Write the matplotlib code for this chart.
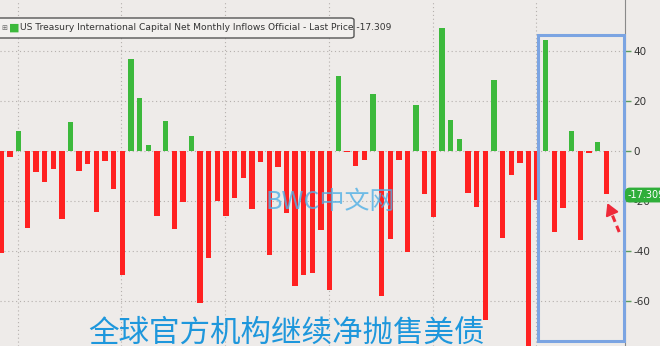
import matplotlib.pyplot as plt
from matplotlib.patches import Rectangle, FancyBboxPatch

plt.rcParams['font.family'] = ['DejaVu Sans']

# monthly net official inflows (USD bn), oldest -> latest
flows = [-41, -2.7, 8, -31, -8.7, -12.7, -7.3, -27.3, 11.3, -8.1,
         -5.5, -24.4, -4, -15.5, -49.7, 36.5, 21, 2.1, -26, 11.9,
         -31.3, -20.4, 6, -61, -42.8, -20, -26.1, -18.8, -10.8, -23.3,
         -4.7, -41.7, -6.7, -25, -54, -49.8, -48.9, -31.7, -55.7, 30,
         -0.5, -6, -3.9, 22.7, -58.1, -35.3, -3.9, -40.4, 18.3, -17.3,
         -26.4, 49, 12.3, 4.7, -17, -22.7, -67.5, 28.3, -34.7, -9.9,
         -4.8, -85, -19.7, 44.3, -32.4, -23, 7.9, -35.7, -0.8, 3.5,
         -17.309]
y_ticks = [-60, -40, -20, 0, 20, 40]
year_marks = [2, 14, 26, 38, 50, 62]
legend_text = 'US Treasury International Capital Net Monthly Inflows Official - Last Price -17.309'
last_label = '-17.309'
caption = '全球官方机构继续净抛售美债'
watermark = 'BWC中文网'

bg = '#eeebe9'
green = '#3cb93c'
red = '#ff2121'

fig = plt.figure(figsize=(6.6, 3.46), dpi=100, facecolor=bg)
ax = fig.add_axes([0, 0, 625 / 660, 1], facecolor=bg)

x = list(range(len(flows)))
colors = [green if v >= 0 else red for v in flows]
ax.bar(x, flows, width=0.62, color=colors, zorder=3)

ax.set_xlim(-0.16, 72.17)
ax.set_ylim(-78.1, 60.3)

# dotted grid
for yv in [-60, -40, -20, 0, 20, 40]:
    ax.axhline(yv, color='#b5b0ad', lw=0.8, ls=(0, (1, 2.5)), zorder=1)
for xv in year_marks:
    ax.axvline(xv - 0.1, color='#b5b0ad', lw=0.8, ls=(0, (1, 2.5)), zorder=1)

ax.yaxis.tick_right()
ax.set_yticks(y_ticks)
ax.set_yticklabels([str(t) for t in y_ticks])
ax.tick_params(axis='y', length=4, width=1, color='#5d9c5d', labelsize=7.5,
               labelcolor='#333333', pad=2)
ax.set_xticks([])
for s in ['left', 'top', 'bottom']:
    ax.spines[s].set_visible(False)
ax.spines['right'].set_color('#8a8a8a')
ax.spines['right'].set_linewidth(0.8)

# highlight box around the latest months
ax.add_patch(Rectangle((62.1, -76.1), 9.95, 122.4, fill=False,
                       edgecolor='#7ba4e2', lw=2.2, zorder=5, clip_on=False))

# dashed red arrow to the last bar
n = len(flows)
ax.plot([n - 1 + 1.5, n - 1 + 0.25], [flows[-1] - 15.2, flows[-1] - 4.6],
        color='#ee2a3a', lw=2.2, ls=(0, (2.2, 1.4)), zorder=6)
ax.annotate('', xy=(n - 1, flows[-1] - 2.6), xytext=(n - 1 + 0.45, flows[-1] - 6.2),
            arrowprops=dict(arrowstyle='-|>,head_width=0.4,head_length=0.7',
                            color='#ee2a3a', lw=1.5), zorder=6)

# last price label on the axis
ax.text(72.45, flows[-1] - 0.4, last_label, fontsize=7, color='white',
        va='center', ha='left', zorder=8, clip_on=False,
        bbox=dict(boxstyle='round,pad=0.25,rounding_size=0.5', fc='#2fae3a', ec='none'))

# legend strip at the top
fig.patches.append(FancyBboxPatch((-0.02, 1 - 38 / 346), 354 / 660 + 0.02, 20 / 346,
                                  boxstyle='round,pad=0,rounding_size=0.006',
                                  transform=fig.transFigure, fc='#f2f0ee',
                                  ec='#555555', lw=1.0, zorder=10))
fig.text(1 / 660, 1 - 28 / 346, '⊞', fontsize=5, color='#666666', va='center', zorder=11)
fig.text(9 / 660, 1 - 28 / 346, '■', fontsize=8, color=green, va='center', zorder=11)
fig.text(20 / 660, 1 - 28 / 346, legend_text, fontsize=6.6, color='#333333',
         va='center', zorder=11, family=['Liberation Sans Narrow', 'DejaVu Sans'])

# watermark and caption
fig.text(330 / 660, 1 - 202 / 346, watermark, fontsize=18, color='#4fb0e6', alpha=0.8,
         ha='center', va='center', family=['Noto Sans CJK SC', 'DejaVu Sans'], zorder=12)
fig.text(286 / 660, 1 - 318 / 346, caption, fontsize=22, color='#1e97dc',
         ha='center', va='top', family=['Noto Sans CJK SC', 'DejaVu Sans'], zorder=12)

fig.savefig('out.png', dpi=100, facecolor=bg)
